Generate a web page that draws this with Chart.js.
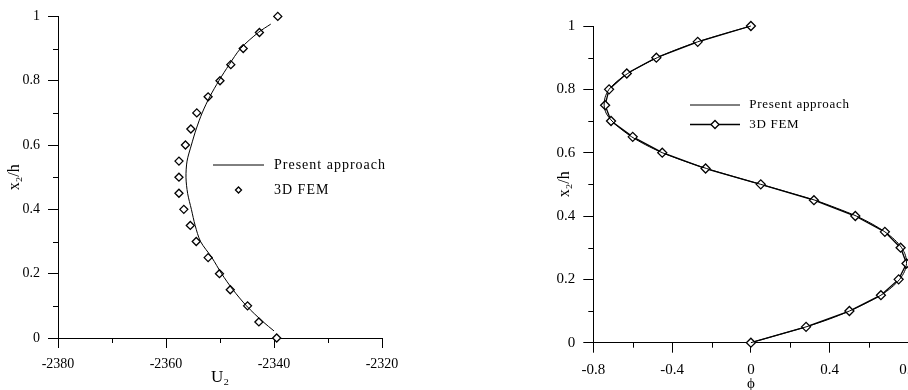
<!DOCTYPE html>
<html>
<head>
<meta charset="utf-8">
<script src="https://cdn.jsdelivr.net/npm/chart.js@4.4.1/dist/chart.umd.min.js"></script>
<style>
  html, body { margin: 0; padding: 0; background: #fff; }
  body { width: 908px; height: 390px; overflow: hidden; position: relative; }
  #leftPlot { position: absolute; left: 0; top: 0; }
  #rightPlot { position: absolute; left: 460px; top: 0; }
</style>
</head>
<body>
<canvas id="leftPlot" width="450" height="390"></canvas>
<canvas id="rightPlot" width="500" height="396"></canvas>
<script>
// ---- left panel : U2 across the thickness ----
const leftFemY = [0, 0.05, 0.1, 0.15, 0.2, 0.25, 0.3, 0.35, 0.4, 0.45, 0.5, 0.55, 0.6, 0.65, 0.7, 0.75, 0.8, 0.85, 0.9, 0.95, 1];
const leftFemU = [-2339.5, -2342.8, -2344.9, -2348.1, -2350.1, -2352.2, -2354.4, -2355.5, -2356.7, -2357.6, -2357.6,
                  -2357.6, -2356.4, -2355.4, -2354.3, -2352.2, -2350.0, -2348.0, -2345.7, -2342.7, -2339.3];
const leftLineY = [0.022, 0.05, 0.1, 0.15, 0.2, 0.25, 0.3, 0.35, 0.4, 0.45, 0.5, 0.55, 0.6, 0.65, 0.7, 0.75, 0.8, 0.85, 0.9, 0.95, 0.976];
const leftLineU = [-2340.0, -2342.0, -2345.1, -2347.6, -2349.7, -2351.5, -2353.6, -2354.6, -2355.3, -2356.0, -2356.3,
                   -2356.1, -2355.3, -2354.4, -2353.3, -2351.9, -2350.2, -2348.3, -2346.2, -2342.9, -2340.6];
const leftXTicks = [-2380, -2360, -2340, -2320];
const leftXLabels = ['-2380', '-2360', '-2340', '-2320'];
const leftXMinor = [-2370, -2350, -2330];

// ---- right panel : phi across the thickness ----
const rightFemY = [0, 0.05, 0.1, 0.15, 0.2, 0.25, 0.3, 0.35, 0.4, 0.45, 0.5, 0.55, 0.6, 0.65, 0.7, 0.75, 0.8, 0.85, 0.9, 0.95, 1];
const rightFemPhi = [0, 0.28, 0.50, 0.66, 0.75, 0.79, 0.76, 0.68, 0.53, 0.32, 0.05,
                     -0.23, -0.45, -0.60, -0.71, -0.74, -0.72, -0.63, -0.48, -0.27, 0];
const rightLineY = [0, 0.025, 0.05, 0.075, 0.1, 0.125, 0.15, 0.175, 0.2, 0.225, 0.25, 0.275, 0.3, 0.325, 0.35, 0.375, 0.4,
                    0.425, 0.45, 0.475, 0.5, 0.525, 0.55, 0.575, 0.6, 0.625, 0.65, 0.675, 0.7, 0.725, 0.75, 0.775, 0.8,
                    0.825, 0.85, 0.875, 0.9, 0.925, 0.95, 0.975, 1];
const rightLinePhi = [0, 0.14, 0.28, 0.40, 0.50, 0.585, 0.66, 0.715, 0.755, 0.78, 0.79, 0.785, 0.765, 0.73, 0.68, 0.615, 0.535,
                      0.435, 0.325, 0.19, 0.05, -0.09, -0.225, -0.345, -0.45, -0.535, -0.605, -0.66, -0.705, -0.735, -0.745,
                      -0.74, -0.72, -0.68, -0.625, -0.555, -0.475, -0.38, -0.27, -0.14, 0];
const rightXTicks = [-0.8, -0.4, 0, 0.4, 0.8];
const rightXLabels = ['-0.8', '-0.4', '0', '0.4', '0.8'];
const rightXMinor = [-0.6, -0.2, 0.2, 0.6];

// shared y axis (x2/h)
const yTicks = [0, 0.2, 0.4, 0.6, 0.8, 1];
const yLabels = ['0', '0.2', '0.4', '0.6', '0.8', '1'];
const yMinor = [0.1, 0.3, 0.5, 0.7, 0.9];

const serif = '"Liberation Serif", "Times New Roman", serif';

function points(xs, ys) {
    return ys.map((y, i) => ({ x: xs[i], y: y }));
}

// short outward ticks between the labelled ones
const minorTicks = {
    id: 'minorTicks',
    afterDraw(chart, args, opts) {
        const ctx = chart.ctx;
        const area = chart.chartArea;
        ctx.save();
        ctx.strokeStyle = '#000';
        ctx.lineWidth = 1;
        ctx.beginPath();
        opts.x.forEach(v => {
            const px = Math.round(chart.scales.x.getPixelForValue(v)) + 0.5;
            ctx.moveTo(px, area.bottom);
            ctx.lineTo(px, area.bottom + opts.length);
        });
        opts.y.forEach(v => {
            const py = Math.round(chart.scales.y.getPixelForValue(v)) + 0.5;
            ctx.moveTo(area.left - opts.length, py);
            ctx.lineTo(area.left, py);
        });
        ctx.stroke();
        ctx.restore();
    }
};

// legend box placed inside the plot like the original figure
const plainLegend = {
    id: 'plainLegend',
    afterDraw(chart, args, opts) {
        const ctx = chart.ctx;
        ctx.save();
        ctx.font = opts.font;
        ctx.letterSpacing = opts.spacing;
        ctx.textBaseline = 'middle';
        chart.data.datasets.forEach((ds, i) => {
            const y = opts.y + i * opts.rowGap;
            if (ds.showLine) {
                ctx.strokeStyle = '#000';
                ctx.lineWidth = ds.borderWidth;
                ctx.beginPath();
                ctx.moveTo(opts.x, y);
                ctx.lineTo(opts.x + opts.len, y);
                ctx.stroke();
            }
            if (ds.pointRadius > 0) {
                ctx.strokeStyle = '#000';
                ctx.fillStyle = '#fff';
                ctx.lineWidth = ds.pointBorderWidth;
                Chart.helpers.drawPoint(ctx, {
                    pointStyle: 'rectRot', rotation: 0,
                    radius: opts.markerRadius, borderWidth: ds.pointBorderWidth
                }, opts.x + opts.len / 2, y);
            }
            ctx.fillStyle = '#000';
            ctx.fillText(ds.label, opts.x + opts.len + opts.textGap, y);
        });
        ctx.restore();
    }
};

function axis(min, max, tickVals, tickLabels, fontSize, size, horizontal, title, titleSize, titlePad) {
    return {
        type: 'linear',
        min: min,
        max: max,
        afterBuildTicks: s => { s.ticks = tickVals.map(v => ({ value: v })); },
        afterFit: s => { if (horizontal) { s.height = size; } else { s.width = size; } },
        ticks: {
            autoSkip: false,
            maxRotation: 0,
            padding: 8,
            color: '#000',
            font: { family: serif, size: fontSize },
            callback: (v, i) => tickLabels[i]
        },
        grid: { drawOnChartArea: false, drawTicks: true, tickLength: 10, tickColor: '#000', tickWidth: 1 },
        border: { display: true, color: '#000', width: 1 },
        title: {
            display: true,
            text: title,
            color: '#000',
            font: { family: serif, size: titleSize },
            padding: titlePad
        }
    };
}

new Chart(document.getElementById('leftPlot'), {
    type: 'scatter',
    data: {
        datasets: [{
            label: 'Present approach',
            data: points(leftLineU, leftLineY),
            showLine: true,
            borderColor: '#000',
            borderWidth: 1,
            pointRadius: 0,
            tension: 0.3,
            clip: false
        }, {
            label: '3D FEM',
            data: points(leftFemU, leftFemY),
            showLine: false,
            pointStyle: 'rectRot',
            pointRadius: 4,
            pointBorderWidth: 1.3,
            pointBorderColor: '#000',
            pointBackgroundColor: '#fff',
            clip: false
        }]
    },
    options: {
        responsive: false,
        animation: false,
        events: [],
        layout: { padding: { left: 0, top: 13, right: 68, bottom: 0 } },
        scales: {
            x: axis(-2380, -2320, leftXTicks, leftXLabels, 14, 52, true, 'U₂', 17, { top: 0, bottom: 2 }),
            y: axis(0, 1, yTicks, yLabels, 14, 58, false, 'x₂/h', 16, { top: 5.4, bottom: 0 })
        },
        plugins: {
            legend: { display: false },
            tooltip: { enabled: false },
            minorTicks: { x: leftXMinor, y: yMinor, length: 5 },
            plainLegend: { x: 213, y: 165, rowGap: 25, len: 51, textGap: 10, markerRadius: 3,
                           font: '14px ' + serif, spacing: '1px' }
        }
    },
    plugins: [minorTicks, plainLegend]
});

new Chart(document.getElementById('rightPlot'), {
    type: 'scatter',
    data: {
        datasets: [{
            label: 'Present approach',
            data: points(rightLinePhi, rightLineY),
            showLine: true,
            borderColor: '#000',
            borderWidth: 1,
            pointRadius: 0,
            tension: 0.3,
            clip: false
        }, {
            label: '3D FEM',
            data: points(rightFemPhi, rightFemY),
            showLine: true,
            borderColor: '#000',
            borderWidth: 1.3,
            pointStyle: 'rectRot',
            pointRadius: 4.5,
            pointBorderWidth: 1.3,
            pointBorderColor: '#000',
            pointBackgroundColor: '#fff',
            clip: false
        }]
    },
    options: {
        responsive: false,
        animation: false,
        events: [],
        layout: { padding: { left: 90, top: 26, right: 51.5, bottom: 0 } },
        scales: {
            x: axis(-0.8, 0.8, rightXTicks, rightXLabels, 15, 53.3, true, 'ϕ', 15, { top: 0, bottom: 3 }),
            y: axis(0, 1, yTicks, yLabels, 15, 43.3, false, 'x₂/h', 16, { top: 5.4, bottom: 0 })
        },
        plugins: {
            legend: { display: false },
            tooltip: { enabled: false },
            minorTicks: { x: rightXMinor, y: yMinor, length: 5 },
            plainLegend: { x: 230, y: 105, rowGap: 19.5, len: 50, textGap: 9.3, markerRadius: 4,
                           font: '13px ' + serif, spacing: '0.7px' }
        }
    },
    plugins: [minorTicks, plainLegend]
});
</script>
</body>
</html>
